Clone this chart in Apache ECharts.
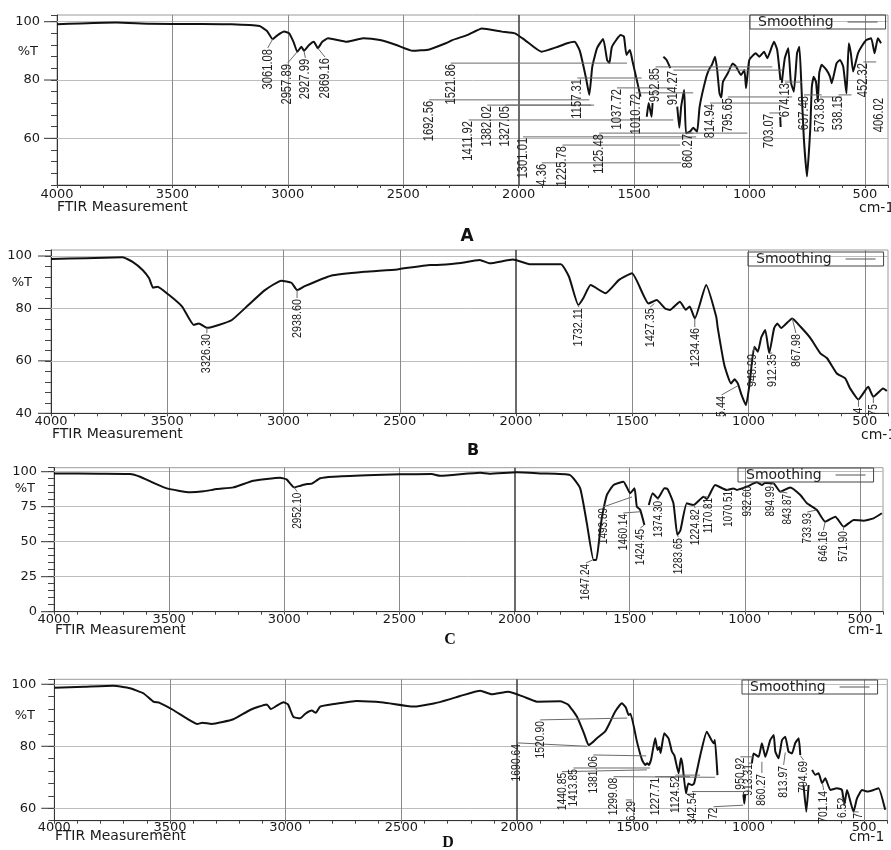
<!DOCTYPE html>
<html><head><meta charset="utf-8">
<script src="https://cdn.jsdelivr.net/npm/echarts@6/dist/echarts.min.js"></script>
<style>html,body{margin:0;padding:0;background:#fff}#c{width:891px;height:850px}</style>
</head><body><div id="c"></div>
<script>
// ---- tick labels ----
const xTickLabels = [4000, 3500, 3000, 2500, 2000, 1500, 1000, 500];
const yTicksA = [60, 80, 100];
const yTicksB = [40, 60, 80, 100];
const yTicksC = [0, 25, 50, 75, 100];
const yTicksD = [60, 80, 100];

// ---- spectra [wavenumber, %T]; null = break in trace ----
const seriesA = [[4000,99.1],[3900,99.4],[3743,99.7],[3600,99.3],[3400,99.2],[3245,99.1],[3123,98.5],[3090,96.8],[3066,94.0],[3044,95.4],[3016,96.6],[2994,96.0],[2975,93.0],[2959,89.7],[2941,91.4],[2930,90.0],[2908,92.0],[2887,93.1],[2870,90.9],[2851,93.1],[2826,94.3],[2744,93.1],[2673,94.3],[2601,93.7],[2530,92.0],[2459,90.0],[2387,90.5],[2316,92.6],[2287,93.7],[2220,95.5],[2159,97.7],[2073,96.6],[2016,96.0],[1973,93.7],[1901,89.7],[1830,91.4],[1790,92.6],[1758,93.1],[1735,90.0],[1708,80.6],[1694,74.9],[1681,84.6],[1660,91.0],[1634,94.1],[1617,86.9],[1607,85.8],[1596,91.4],[1558,95.4],[1544,94.9],[1533,88.6],[1518,90.3],[1508,86.9],[1472,74.3],null,[1445,67.4],[1437,72.1],[1424,67.4],[1420,72.1],null,[1373,88.0],[1359,86.9],[1343,84.1],null,[1313,70.9],[1304,63.6],[1296,70.9],[1283,76.6],[1275,61.7],[1258,62.3],[1244,63.6],[1227,62.3],[1216,70.9],[1187,81.1],[1173,84.0],[1163,85.2],[1149,88.0],[1140,83.4],[1130,75.4],[1122,74.0],[1115,79.4],[1094,82.3],[1073,85.7],[1058,84.6],[1037,81.7],[1022,83.4],[1015,77.2],[1001,86.9],[973,89.2],[958,88.0],[937,89.7],[923,87.5],[894,93.1],[880,90.3],[866,80.0],null,[867,67.3],[865,63.9],null,[860,79.0],[847,87.5],[832,90.9],[821,79.4],[808,76.0],[794,89.2],[784,91.4],[775,77.7],[765,60.6],[751,46.9],[737,62.9],[730,77.7],[722,81.1],[712,79.4],[704,72.6],[698,82.3],[687,85.2],[666,83.4],[651,81.1],[644,78.9],[623,85.7],[608,86.9],[594,84.6],[580,75.4],[570,92.6],[561,89.2],[551,82.9],[530,89.2],[515,91.4],[494,93.7],[473,94.3],[458,89.2],[444,94.3],[430,92.6]];

const seriesB = [[4000,98.9],[3850,99.2],[3692,99.5],[3649,97.8],[3606,94.7],[3578,91.5],[3561,87.9],[3542,88.3],[3492,85.1],[3436,80.7],[3386,73.7],[3364,74.3],[3329,72.6],[3279,73.7],[3222,75.6],[3151,81.3],[3080,87.0],[3009,90.6],[2966,89.8],[2941,87.0],[2909,88.5],[2796,92.5],[2653,94.0],[2511,94.9],[2369,96.6],[2340,96.6],[2250,97.2],[2156,98.5],[2113,97.2],[2013,98.7],[1942,96.9],[1807,96.9],[1772,92.1],[1732,81.3],[1710,84.0],[1679,88.9],[1615,85.8],[1558,90.8],[1501,93.4],[1430,81.9],[1395,83.2],[1359,80.0],[1338,79.4],[1295,82.6],[1270,79.5],[1253,80.7],[1231,76.2],[1182,88.9],[1139,76.9],[1132,72.4],[1104,58.4],[1075,51.4],[1060,53.0],[1046,51.4],[1030,47.0],[1011,43.1],[997,50.1],[975,65.4],[960,63.5],[945,69.0],[928,71.8],[911,62.9],[890,72.4],[876,74.3],[860,72.5],[812,76.2],[776,73.0],[733,68.6],[691,62.9],[662,61.0],[620,55.2],[584,53.3],[563,49.5],[527,45.3],[485,50.1],[463,46.3],[421,49.5],[405,48.5]];

const seriesC = [[4000,98.8],[3800,98.6],[3670,98.4],[3626,96.4],[3569,92.1],[3510,88.1],[3409,85.3],[3350,86.0],[3293,87.6],[3221,88.8],[3134,93.6],[3018,95.7],[2990,94.5],[2957,88.8],[2930,90.0],[2902,91.2],[2880,91.5],[2844,95.3],[2787,96.4],[2642,97.4],[2497,98.1],[2360,98.3],[2323,97.1],[2149,99.3],[2110,98.6],[1990,99.6],[1889,98.8],[1759,97.6],[1715,88.1],[1686,63.1],[1657,36.9],[1645,36.9],[1628,58.4],[1620,68.0],[1599,83.4],[1570,90.5],[1527,92.9],[1498,84.6],[1479,88.1],[1469,75.0],[1455,73.0],[1436,61.9],null,[1417,76.2],[1400,84.6],[1378,81.0],[1349,88.1],[1335,87.5],[1310,77.4],[1293,54.8],[1280,58.0],[1252,77.4],[1223,76.2],[1179,82.1],[1165,80.5],[1129,90.5],[1078,86.9],[1050,88.0],[1035,87.0],[991,89.3],[948,92.4],[926,90.5],[912,92.0],[875,91.7],[846,85.7],[803,88.8],[759,83.4],[730,77.4],[687,72.6],[651,64.3],[607,67.9],[571,60.7],[527,65.5],[485,65.0],[441,66.7],[405,70.3]];

const seriesD = [[4000,98.9],[3870,99.2],[3745,99.5],[3673,98.7],[3615,97.1],[3572,94.4],[3545,94.0],[3486,91.7],[3428,89.0],[3382,87.2],[3360,87.6],[3320,87.2],[3226,88.7],[3154,91.7],[3082,93.5],[3064,92.0],[3040,93.0],[3010,94.2],[2990,93.5],[2967,89.5],[2938,89.0],[2915,90.5],[2887,91.5],[2870,90.8],[2851,92.8],[2794,93.6],[2693,94.6],[2578,94.1],[2448,92.8],[2360,93.8],[2289,95.2],[2246,96.2],[2159,97.9],[2110,96.8],[2038,97.6],[1972,96.0],[1914,94.4],[1814,94.5],[1780,93.5],[1741,89.5],[1710,84.0],[1691,80.4],[1670,81.5],[1655,82.6],[1620,84.7],[1600,87.5],[1576,91.2],[1547,93.9],[1530,92.5],[1518,90.1],[1510,90.5],[1482,81.5],[1460,75.6],[1446,74.0],[1438,74.5],[1430,74.0],[1420,76.0],[1403,82.6],[1393,78.8],[1385,79.8],[1380,77.8],[1364,84.2],[1345,82.5],[1331,78.3],[1320,77.0],[1302,71.3],[1292,76.1],[1285,74.0],[1270,64.8],[1260,68.0],[1244,67.5],[1235,68.0],[1208,77.2],[1180,84.7],[1151,81.0],[1145,82.0],[1134,70.7],null,[1022,64.5],[1018,61.5],[1014,64.5],null,[985,74.5],[978,77.7],[956,76.6],[942,81.0],[927,76.6],[906,82.0],[891,83.6],[884,78.3],[870,76.1],[855,82.0],[841,83.1],[827,78.3],[812,77.7],[798,81.0],[783,82.6],[776,77.2],null,[762,67.5],[750,58.9],[740,67.5],null,[725,72.4],[711,70.8],[697,71.3],[682,68.1],[668,69.7],[646,65.9],[618,66.5],[596,65.9],[586,61.1],[574,65.9],[546,58.9],[531,63.2],[509,65.9],[488,65.4],[459,65.9],[438,66.5],[409,59.5]];

// ---- peak annotations: [text, label wavenumber, label top %T, leader end wavenumber, leader end %T] ----
const peaksA = [['3061.08',3087,91.0,3066,94.0],['2957.89',3001,85.8,2959,89.7],['2927.99',2924,87.6,2930,90.0],['2869.16',2839,87.9,2870,90.9],['1692.56',2388,73.2,1694,73.2],['1521.86',2294,85.8,1531,85.8],['1411.92',2217,66.3,1330,66.3],['1382.02',2136,71.4,1686,71.4],['1327.05',2058,71.4,1673,71.4],['1301.01',1981,60.5,1231,60.5],['4.36',1900,51.6,1296,51.6],['1225.78',1810,57.7,1300,57.7],['1157.31',1746,80.7,1467,80.7],['1125.48',1651,61.8,1244,61.8],['1037.72',1574,77.3,1330,77.3],['1010.72',1493,75.6,1244,75.6],['952.85',1407,84.5,901,84.5],['914.27',1330,83.4,858,83.4],['860.27',1266,61.8,1009,61.8],['814.94',1171,72.1,837,72.1],['795.65',1094,74.2,815,74.2],['703.07',914,68.7,867,68.7],['674.13',846,79.3,773,79.3],['637.48',764,74.9,687,74.9],['573.83',695,74.2,601,74.2],['538.15',614,74.9,558,74.9],['452.32',507,86.2,451,86.2],['406.02',439,74.2,439,74.2]];
const peaksB = [['3326.30',3330,70.6,3329,72.6],['2938.60',2942,84.0,2941,87.0],['1732.11',1730,80.5,1732,81.3],['1427.35',1423,80.5,1405,81.9],['1234.46',1231,72.9,1231,76.2],['5.44',1116,47.0,1046,50.5],['948.99',984,63.0,975,65.4],['912.35',898,63.0,911,62.9],['867.98',796,70.6,812,76.2],['4',527,42.5,527,45.3],['75',463,43.9,463,46.3]];
const peaksC = [['2952.10',2944,85.7,2957,88.8],['1647.24',1690,34.8,1660,37.0],['1493.89',1615,74.8,1490,82.0],['1460.14',1528,70.5,1454,71.4],['1424.45',1454,59.8,1436,61.9],['1374.30',1376,79.8,1378,81.0],['1283.65',1289,53.3,1293,54.8],['1224.82',1215,74.0,1223,76.2],['1170.81',1159,82.0,1179,82.1],['1070.51',1072,87.0,1078,86.9],['932.60',990,90.5,991,89.3],['894.99',890,90.5,875,91.7],['843.87',816,84.8,846,85.7],['733.93',729,71.2,690,72.6],['646.16',659,58.3,651,64.3],['571.90',572,58.3,571,60.7]];
const peaksD = [['1690.64',2001,81.1,1698,80.0],['1520.90',1900,88.5,1524,89.1],['1440.85',1806,71.8,1439,72.4],['1413.85',1756,73.0,1425,73.0],['1381.06',1670,77.2,1442,76.9],['1299.08',1583,70.2,1144,70.0],['6.29',1504,62.7,1530,62.7],['1227.71',1403,70.2,1253,70.2],['1124.52',1316,70.7,1209,70.7],['342.54',1244,65.4,1023,65.4],['72',1151,60.5,1023,61.0],['950.92',1035,76.6,980,76.6],['913.31',1000,74.6,985,74.5],['860.27',942,71.4,942,75.0],['813.97',848,74.0,841,78.0],['794.69',762,75.6,776,77.0],['701.14',675,65.9,680,68.0],['6.52',596,63.7,586,61.1],['7',524,58.8,546,58.9]];

// ---- layout (positions / styles) ----
const panels = [
  {data:seriesA, peaks:peaksA, yTicks:yTicksA, left:57, top:15, width:840, height:170, yMin:44, yMax:102.3, yStep:4, xLabelMargin:3, yLabelMargin:17, pctT:89.7, pctRight:38, peakFont:14, ftir:[57,207], cm:[859,208], letter:['A',467,237,'bold 17px "DejaVu Sans"'], legend:[750,15]},
  {data:seriesB, peaks:peaksB, yTicks:yTicksB, left:51, top:250, width:844, height:163.3, yMin:40, yMax:102.3, yStep:4, xLabelMargin:2, yLabelMargin:19, pctT:89.7, pctRight:32, peakFont:13.5, ftir:[52,434], cm:[861,435], letter:['B',473,451,'bold 16px "DejaVu Sans"'], legend:[748,252]},
  {data:seriesC, peaks:peaksC, yTicks:yTicksC, left:54, top:467.7, width:829, height:144, yMin:0, yMax:102.86, yStep:5, xLabelMargin:1, yLabelMargin:17, pctT:87.6, pctRight:35, peakFont:12.5, ftir:[55,630], cm:[848,630.5], letter:['C',450,640,'bold 16px "Liberation Serif"'], legend:[738,468]},
  {data:seriesD, peaks:peaksD, yTicks:yTicksD, left:54.3, top:679.3, width:833, height:141.4, yMin:56, yMax:101.6, yStep:4, xLabelMargin:0, yLabelMargin:18, pctT:90, pctRight:35, peakFont:13, ftir:[55,836.7], cm:[849,837.7], letter:['D',448,843,'bold 16px "Liberation Serif"'], legend:[742,680]}
];

const AXFONT = '"DejaVu Sans", Verdana, sans-serif';
const PEAKFONT = '"Liberation Sans", Arial, sans-serif';
const PEAK_SQUEEZE = 0.8;

const chart = echarts.init(document.getElementById('c'), null, {renderer:'canvas', width:891, height:850});

const option = {
  animation:false,
  backgroundColor:'#ffffff',
  grid: panels.map(p => ({left:p.left, top:p.top, width:p.width, height:p.height, show:true, borderColor:'#9a9a9a', borderWidth:1, containLabel:false})),
  xAxis: panels.map((p,i) => ({
    gridIndex:i, type:'value', inverse:true, min:400, max:4000, interval:100,
    axisLine:{show:true, onZero:false, lineStyle:{color:'#333', width:1}},
    axisTick:{show:true, length:3, lineStyle:{color:'#444'}},
    axisLabel:{margin:p.xLabelMargin, color:'#1a1a1a', fontFamily:AXFONT, fontSize:13,
      formatter: v => xTickLabels.includes(v) ? String(v) : ''},
    splitLine:{show:false}
  })),
  yAxis: panels.map((p,i) => ({
    gridIndex:i, type:'value', min:p.yMin, max:p.yMax, interval:p.yStep,
    axisLine:{show:true, onZero:false, lineStyle:{color:'#333', width:1}},
    axisTick:{show:true, length:6, lineStyle:{color:'#444'}},
    axisLabel:{margin:p.yLabelMargin, color:'#1a1a1a', fontFamily:AXFONT, fontSize:13,
      formatter: v => p.yTicks.includes(v) ? String(v) : ''},
    splitLine:{show:false}
  })),
  legend: panels.map(p => ({
    data:['Smoothing'], left:p.legend[0], top:p.legend[1], orient:'horizontal', align:'right',
    icon:'rect', itemWidth:30, itemHeight:1, itemStyle:{color:'#555'},
    borderColor:'#444', borderWidth:1, padding:[0,8,0,8], selectedMode:false,
    textStyle:{fontFamily:AXFONT, fontSize:14, color:'#222', lineHeight:12},
    formatter: n => n + '  '
  })),
  series: []
};

panels.forEach((p,i) => {
  // gridlines
  option.series.push({
    type:'lines', coordinateSystem:'cartesian2d', xAxisIndex:i, yAxisIndex:i, z:1, silent:true,
    lineStyle:{opacity:1, width:1, color:'#bdbdbd', curveness:0},
    data:[
      ...p.yTicks.filter(v => v > p.yMin).map(v => ({coords:[[4000,v],[400,v]]})),
      ...xTickLabels.filter(v => v < 4000).map(v => ({coords:[[v,p.yMin],[v,p.yMax]],
        lineStyle:{color: v === 2000 ? '#3a3a3a' : '#8a8a8a', width: v === 2000 ? 1.5 : 1, opacity:1}}))
    ]
  });
  // spectrum
  option.series.push({
    name:'Smoothing', type:'line', xAxisIndex:i, yAxisIndex:i, z:3,
    showSymbol:false, symbol:'none', connectNulls:false, smooth:0.15,
    lineStyle:{color:'#111', width:2, join:'round'},
    itemStyle:{color:'#555'},
    data: p.data.map(d => d === null ? ['-','-'] : d)
  });
  // peak labels + leaders
  option.series.push({
    type:'custom', xAxisIndex:i, yAxisIndex:i, z:4, silent:true, clip:false,
    data: p.peaks.map(k => [k[1], k[2], k[3], k[4]]),
    renderItem: (params, api) => {
      const k = p.peaks[params.dataIndex];
      const a = api.coord([k[1], k[2]]);
      const b = api.coord([k[3], k[4]]);
      return {type:'group', children:[
        {type:'line', shape:{x1:a[0], y1:a[1], x2:b[0], y2:b[1]}, style:{stroke:'#6a6a6a', lineWidth:1}},
        {type:'text', x:a[0], y:a[1]+1, rotation:Math.PI/2, scaleX:PEAK_SQUEEZE, scaleY:1,
          style:{text:k[0], align:'right', verticalAlign:'middle', textAlign:'right', textVerticalAlign:'middle',
                 font: p.peakFont + 'px ' + PEAKFONT, fill:'#222'}}
      ]};
    }
  });
});

chart.setOption(option);

// decorations that depend on axis scale: major y ticks, %T, axis captions, panel letters
const graphics = [];
panels.forEach((p,i) => {
  p.yTicks.forEach(v => {
    const pt = chart.convertToPixel({gridIndex:i}, [4000, v]);
    graphics.push({type:'line', silent:true, shape:{x1:pt[0]-13, y1:pt[1], x2:pt[0], y2:pt[1]}, style:{stroke:'#333', lineWidth:1}});
  });
  const tp = chart.convertToPixel({gridIndex:i}, [4000, p.pctT]);
  graphics.push({type:'text', silent:true, x:p.pctRight, y:tp[1], style:{text:'%T', align:'right', verticalAlign:'middle', font:'13px ' + AXFONT, fill:'#1a1a1a'}});
  graphics.push({type:'text', silent:true, x:p.ftir[0], y:p.ftir[1], style:{text:'FTIR Measurement', align:'left', verticalAlign:'middle', font:'14px ' + AXFONT, fill:'#1a1a1a'}});
  graphics.push({type:'text', silent:true, x:p.cm[0], y:p.cm[1], style:{text:'cm-1', align:'left', verticalAlign:'middle', font:'14px ' + AXFONT, fill:'#1a1a1a'}});
  graphics.push({type:'text', silent:true, x:p.letter[1], y:p.letter[2], style:{text:p.letter[0], align:'center', verticalAlign:'middle', font:p.letter[3], fill:'#111'}});
});
chart.setOption({graphic: graphics});
</script>
</body></html>
